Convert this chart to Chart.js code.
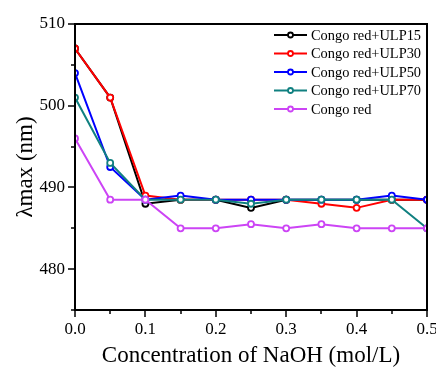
<!DOCTYPE html>
<html>
<head>
<meta charset="utf-8">
<script src="https://cdn.jsdelivr.net/npm/chart.js@4.4.1/dist/chart.umd.min.js"></script>
<style>
  html, body { margin: 0; padding: 0; background: #fff; }
  canvas { display: block; }
</style>
</head>
<body>
<canvas id="chart" width="436" height="370"></canvas>
<script>
// --- data ---
const naoh = [0, 0.05, 0.1, 0.15, 0.2, 0.25, 0.3, 0.35, 0.4, 0.45, 0.5];
const seriesNames = ["Congo red+ULP15", "Congo red+ULP30", "Congo red+ULP50", "Congo red+ULP70", "Congo red"];
const ulp15 = [507, 501, 488, 488.5, 488.5, 487.5, 488.5, 488.5, 488.5, 488.5, 488.5];
const ulp30 = [507, 501, 489, 488.5, 488.5, 488.5, 488.5, 488, 487.5, 488.5, 488.5];
const ulp50 = [504, 492.5, 488.5, 489, 488.5, 488.5, 488.5, 488.5, 488.5, 489, 488.5];
const ulp70 = [501, 493, 488.5, 488.5, 488.5, 488, 488.5, 488.5, 488.5, 488.5, 485];
const congoRed = [496, 488.5, 488.5, 485, 485, 485.5, 485, 485.5, 485, 485, 485];
const yTicks = [480, 490, 500, 510];
const yMinorTicks = [475, 485, 495, 505];
const xMinorTicks = [0.05, 0.15, 0.25, 0.35, 0.45];

const colors = ["#000000", "#ff0000", "#0000ff", "#108080", "#cc44f5"];
const allSeries = [ulp15, ulp30, ulp50, ulp70, congoRed];

const FONT = "'Liberation Serif', 'Times New Roman', serif";

function makeDataset(i) {
  return {
    label: seriesNames[i],
    data: naoh.map((x, k) => ({ x: x, y: allSeries[i][k] })),
    borderColor: colors[i],
    backgroundColor: colors[i],
    pointBackgroundColor: "#ffffff",
    pointBorderColor: colors[i],
    pointBorderWidth: 1.8,
    pointRadius: 3,
    borderWidth: 2,
    order: 5 - i,
  };
}

// frame, minor ticks and the legend box
const decorPlugin = {
  id: "decor",
  afterDraw(chart) {
    const ctx = chart.ctx;
    const a = chart.chartArea;
    const xs = chart.scales.x;
    const ys = chart.scales.y;
    ctx.save();
    ctx.strokeStyle = "#000";
    ctx.lineWidth = 2;
    ctx.strokeRect(a.left, a.top, a.right - a.left, a.bottom - a.top);

    ctx.lineWidth = 1.5;
    ctx.beginPath();
    for (const v of [0, 0.1, 0.2, 0.3, 0.4, 0.5]) {
      const px = Math.round(xs.getPixelForValue(v));
      ctx.moveTo(px, a.bottom); ctx.lineTo(px, a.bottom + 7);
    }
    for (const v of xMinorTicks) {
      const px = Math.round(xs.getPixelForValue(v));
      ctx.moveTo(px, a.bottom); ctx.lineTo(px, a.bottom + 4);
    }
    for (const v of yTicks) {
      const py = Math.round(ys.getPixelForValue(v));
      ctx.moveTo(a.left, py); ctx.lineTo(a.left - 7, py);
    }
    for (const v of yMinorTicks) {
      const py = Math.round(ys.getPixelForValue(v));
      ctx.moveTo(a.left, py); ctx.lineTo(a.left - 4, py);
    }
    ctx.stroke();

    // legend
    ctx.font = "14.4px " + FONT;
    ctx.textBaseline = "middle";
    ctx.textAlign = "left";
    const rows = [35, 53.5, 72, 90.5, 109];
    seriesNames.forEach((name, i) => {
      const y = rows[i];
      ctx.strokeStyle = colors[i];
      ctx.lineWidth = 2;
      ctx.beginPath();
      ctx.moveTo(274, y); ctx.lineTo(307, y);
      ctx.stroke();
      ctx.beginPath();
      ctx.arc(290.5, y, 2.5, 0, Math.PI * 2);
      ctx.fillStyle = "#fff";
      ctx.fill();
      ctx.lineWidth = 1.8;
      ctx.stroke();
      ctx.fillStyle = "#000";
      ctx.fillText(name, 311, y + 1);
    });
    ctx.restore();
  }
};

new Chart(document.getElementById("chart"), {
  type: "line",
  data: { datasets: seriesNames.map((n, i) => makeDataset(i)) },
  options: {
    responsive: false,
    animation: false,
    layout: { padding: { top: 24, right: 9, left: 0, bottom: 0 } },
    plugins: { legend: { display: false }, tooltip: { enabled: false } },
    scales: {
      x: {
        type: "linear",
        min: 0,
        max: 0.5,
        grid: { display: false, drawTicks: false },
        border: { display: false },
        ticks: {
          stepSize: 0.1,
          padding: 9,
          color: "#000",
          maxRotation: 0,
          font: { family: FONT, size: 17 },
          callback: (v) => Number(v).toFixed(1),
        },
        title: {
          display: true,
          text: "Concentration of NaOH (mol/L)",
          color: "#000",
          font: { family: FONT, size: 23 },
          padding: { top: 0, bottom: 0 },
        },
        afterFit(scale) {
          scale.height = 60;
          scale.paddingLeft = 0;
          scale.paddingRight = 0;
        },
      },
      y: {
        min: 475,
        max: 510,
        grid: { display: false, drawTicks: false },
        border: { display: false },
        afterBuildTicks(scale) { scale.ticks = yTicks.map(v => ({ value: v })); },
        ticks: {
          padding: 10,
          color: "#000",
          font: { family: FONT, size: 17 },
        },
        title: {
          display: true,
          text: "λmax (nm)",
          color: "#000",
          font: { family: FONT, size: 23 },
          padding: { top: 12, bottom: 0 },
        },
        afterFit(scale) {
          scale.width = 75;
          scale.paddingTop = 0;
          scale.paddingBottom = 0;
        },
      },
    },
  },
  plugins: [decorPlugin],
});
</script>
</body>
</html>
